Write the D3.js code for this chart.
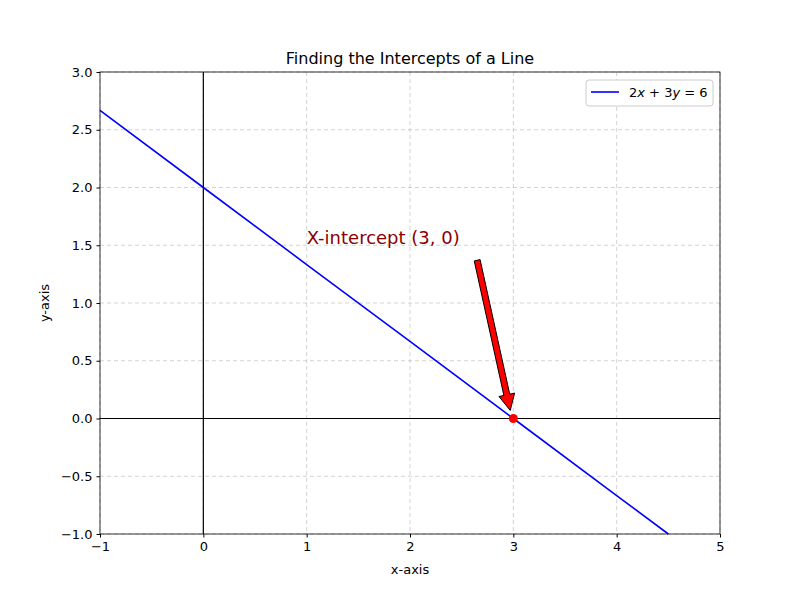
<!DOCTYPE html>
<html><head><meta charset="utf-8">
<script src="https://cdn.jsdelivr.net/npm/d3@7"></script>
<style>body{margin:0;background:#fff}text{font-family:"DejaVu Sans",sans-serif}</style>
</head><body><svg id="vis" width="800" height="600"></svg>
<script>
// data
var lineX = [-1, 0, 1, 2, 3, 4, 4.5];
var lineY = [2.667, 2.0, 1.333, 0.667, 0.0, -0.667, -1.0];
var interceptX = [3];
var interceptY = [0];
var xTicks = [-1, 0, 1, 2, 3, 4, 5];
var yTicks = [-1.0, -0.5, 0.0, 0.5, 1.0, 1.5, 2.0, 2.5, 3.0];
var arrowFrom = [2.65, 1.37];
var arrowTo = [2.97, 0.07];
var labelPos = [1.0, 1.5];

var margin = {top: 72, right: 80, bottom: 66, left: 100};
var width = 800 - margin.left - margin.right;
var height = 600 - margin.top - margin.bottom;

var svg = d3.select("#vis");
var g = svg.append("g").attr("transform", "translate(" + margin.left + "," + margin.top + ")");

var x = d3.scaleLinear().domain([-1, 5]).range([0, width]);
var y = d3.scaleLinear().domain([-1, 3]).range([height, 0]);

var fmtY = function(d) { return d3.format(".1f")(d).replace("-", "\u2212"); };
var fmtX = function(d) { return String(d).replace("-", "\u2212"); };

// grid
g.selectAll("line.gx").data(xTicks).enter().append("line")
	.attr("x1", x).attr("x2", x).attr("y1", 0).attr("y2", height)
	.attr("stroke", "#b0b0b0").attr("stroke-opacity", 0.7).attr("stroke-dasharray", "4,3").attr("stroke-width", 0.8);
g.selectAll("line.gy").data(yTicks).enter().append("line")
	.attr("y1", y).attr("y2", y).attr("x1", 0).attr("x2", width)
	.attr("stroke", "#b0b0b0").attr("stroke-opacity", 0.7).attr("stroke-dasharray", "4,3").attr("stroke-width", 0.8);

// zero lines
g.append("line").attr("x1", 0).attr("x2", width).attr("y1", y(0)).attr("y2", y(0)).attr("stroke", "black").attr("stroke-width", 1.2);
g.append("line").attr("x1", x(0)).attr("x2", x(0)).attr("y1", 0).attr("y2", height).attr("stroke", "black").attr("stroke-width", 1.2);

// the line
var pts = lineX.map(function(d, i) { return [d, lineY[i]]; });
g.append("path").datum(pts)
	.attr("d", d3.line().x(function(d) { return x(d[0]); }).y(function(d) { return y(d[1]); }))
	.attr("fill", "none").attr("stroke", "blue").attr("stroke-width", 1.6);

// intercept point
g.selectAll("circle.pt").data(interceptX).enter().append("circle")
	.attr("cx", function(d) { return x(d); })
	.attr("cy", function(d, i) { return y(interceptY[i]); })
	.attr("r", 4.5).attr("fill", "red");

// arrow
(function() {
	var x0 = x(arrowFrom[0]), y0 = y(arrowFrom[1]), x1 = x(arrowTo[0]), y1 = y(arrowTo[1]);
	var dx = x1 - x0, dy = y1 - y0, L = Math.sqrt(dx * dx + dy * dy);
	var ux = dx / L, uy = dy / L, px = -uy, py = ux;
	var bw = 3, hw = 8, hl = 16;
	var bx = x1 - ux * hl, by = y1 - uy * hl;
	var p = [
		[x0 + px * bw, y0 + py * bw], [bx + px * bw, by + py * bw], [bx + px * hw, by + py * hw],
		[x1, y1], [bx - px * hw, by - py * hw], [bx - px * bw, by - py * bw], [x0 - px * bw, y0 - py * bw]
	];
	g.append("polygon").attr("points", p.map(function(q) { return q.join(","); }).join(" "))
		.attr("fill", "red").attr("stroke", "black").attr("stroke-width", 1);
})();

g.append("text").attr("x", x(labelPos[0])).attr("y", y(labelPos[1]) - 1)
	.attr("fill", "darkred").attr("font-size", 18).text("X-intercept (3, 0)");

// frame
g.append("rect").attr("width", width).attr("height", height).attr("fill", "none").attr("stroke", "black").attr("stroke-width", 0.8);

// axes
var xa = g.append("g").attr("transform", "translate(0," + height + ")")
	.call(d3.axisBottom(x).tickValues(xTicks).tickFormat(fmtX).tickSize(3.5).tickPadding(4));
var ya = g.append("g").call(d3.axisLeft(y).tickValues(yTicks).tickFormat(fmtY).tickSize(3.5).tickPadding(4));
[xa, ya].forEach(function(a) {
	a.select(".domain").remove();
	a.selectAll("text").attr("font-size", 13).attr("fill", "black").style("font-family", "DejaVu Sans");
});

svg.append("text").attr("x", margin.left + width / 2).attr("y", 64).attr("text-anchor", "middle")
	.attr("font-size", 16).text("Finding the Intercepts of a Line");
svg.append("text").attr("x", margin.left + width / 2).attr("y", 574).attr("text-anchor", "middle")
	.attr("font-size", 13).text("x-axis");
svg.append("text").attr("transform", "translate(49," + (margin.top + height / 2) + ") rotate(-90)")
	.attr("text-anchor", "middle").attr("font-size", 13).text("y-axis");

// legend
var lg = svg.append("g").attr("transform", "translate(586,80)");
lg.append("rect").attr("width", 127).attr("height", 26).attr("rx", 3).attr("fill", "white")
	.attr("stroke", "#ccc").attr("stroke-width", 1);
lg.append("line").attr("x1", 5).attr("x2", 33).attr("y1", 12).attr("y2", 12).attr("stroke", "blue").attr("stroke-width", 1.6);
var lt = lg.append("text").attr("x", 43).attr("y", 17).attr("font-size", 13);
lt.append("tspan").text("2");
lt.append("tspan").attr("font-style", "italic").text("x");
lt.append("tspan").text(" + 3");
lt.append("tspan").attr("font-style", "italic").text("y");
lt.append("tspan").text(" = 6");
</script></body></html>
